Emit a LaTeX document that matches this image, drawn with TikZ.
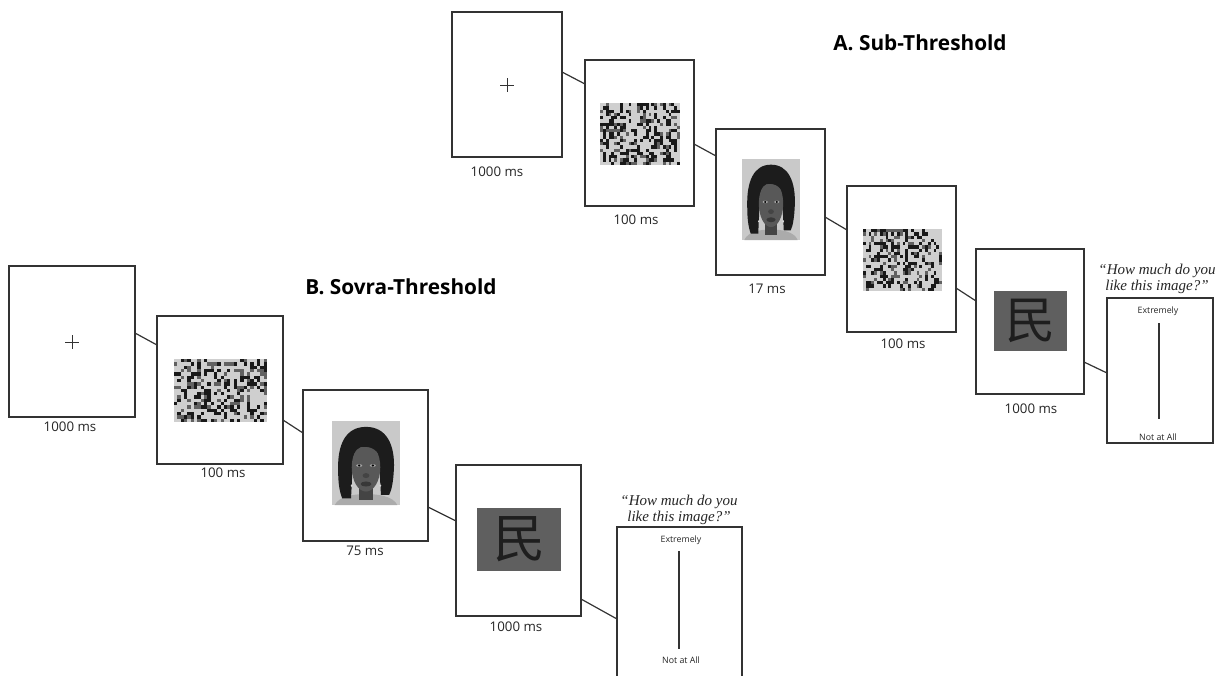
\documentclass[tikz,border=0pt]{standalone}
\usepackage{fontspec}
\newfontfamily\labfont{Open Sans}
\newfontfamily\qfont{Liberation Serif}
\newfontfamily\cjk{Noto Sans CJK SC}
\usetikzlibrary{calc}
\definecolor{framecol}{HTML}{333333}
\definecolor{noisebg}{HTML}{CFCFCF}
\definecolor{chargray}{HTML}{5F5F5F}
\definecolor{charink}{HTML}{1E1E1E}
\definecolor{photobg}{HTML}{C9C9C9}
\definecolor{hair}{HTML}{1C1C1C}
\definecolor{skin}{HTML}{585858}
\definecolor{skindark}{HTML}{444444}
\definecolor{lips}{HTML}{383838}
\definecolor{cloth}{HTML}{ABABAB}
\tikzset{
  frame/.style={draw=framecol, line width=1.3pt, fill=white, inner sep=0pt, outer sep=0pt},
  lab/.style={font=\labfont\fontsize{13.3}{15}\selectfont, text=black!85, inner sep=0pt},
  scalelab/.style={font=\labfont\fontsize{8.8}{10}\selectfont, text=black!85, inner sep=0pt},
  quest/.style={font=\qfont\itshape\fontsize{15}{16}\selectfont, text=black!85, align=center, inner sep=0pt},
  ttl/.style={font=\labfont\bfseries\fontsize{20.8}{24}\selectfont, text=black, inner sep=0pt},
  conn/.style={draw=framecol, line width=1.2pt},
  scaleline/.style={draw=framecol, line width=2pt},
  crossline/.style={draw=framecol, line width=0.8pt},
  charbox/.style={fill=chargray, draw=none, inner sep=0pt, outer sep=0pt},
}
\newcommand\noisepatch[5]{%
  \fill[noisebg] (#1,#2) rectangle ++(#3,#4);
  \pgfmathsetseed{#5}%
  \pgfmathsetmacro\noisecw{#3/28}%
  \pgfmathsetmacro\noisech{#4/19}%
  \foreach \i in {0,...,27}{\foreach \j in {0,...,18}{%
    \pgfmathsetmacro\noiser{rnd}%
    \ifdim\noiser pt<0.28pt
      \fill[black!90] (#1+\i*\noisecw,#2+\j*\noisech) rectangle ++(\noisecw,\noisech);
    \else\ifdim\noiser pt<0.42pt
      \fill[black!62] (#1+\i*\noisecw,#2+\j*\noisech) rectangle ++(\noisecw,\noisech);
    \fi\fi
  }}%
}
\newcommand\facepic[4]{%
  \begin{scope}[shift={(#1,#2)},xscale=#3,yscale=#4]
    \fill[photobg] (0,0) rectangle (100,100);
    \fill[cloth] (4,100) .. controls (10,90) and (30,87) .. (50,87) .. controls (70,87) and (90,90) .. (96,100) -- cycle;
    \fill[hair] (50,7) .. controls (80,7) and (93,28) .. (91,58) .. controls (90,72) and (88,82) .. (84,88) -- (72,88) -- (70,60) -- (30,60) -- (28,92) -- (15,92) .. controls (11,84) and (9,74) .. (9,58) .. controls (8,28) and (20,7) .. (50,7) -- cycle;
    \fill[skindark] (40,70) rectangle (60,94);
    \fill[skin] (50,55) ellipse [x radius=21, y radius=29];
    \fill[hair] (28,50) .. controls (27,24) and (44,15) .. (60,16) .. controls (73,18) and (77,32) .. (74,50) .. controls (70,35) and (58,29) .. (42,31) .. controls (33,34) and (30,42) .. (28,50) -- cycle;
    \fill[black!35] (40,53) ellipse [x radius=4.5, y radius=1.6];
    \fill[black!35] (60,53) ellipse [x radius=4.5, y radius=1.6];
    \fill[black] (40,53) ellipse [x radius=1.8, y radius=1.5];
    \fill[black] (60,53) ellipse [x radius=1.8, y radius=1.5];
    \fill[skindark] (50,65) ellipse [x radius=5, y radius=3];
    \fill[lips] (50,75) ellipse [x radius=8, y radius=3];
    \fill[white!85!black] (29,77) circle [radius=1.5];
    \fill[white!85!black] (71,77) circle [radius=1.5];
  \end{scope}%
}
\begin{document}
\begin{tikzpicture}[x=1pt,y=-1pt]
\fill[white] (0,0) rectangle (1217,675);
\useasboundingbox (0,0) rectangle (1217,675);
\clip (0,0) rectangle (1217,675);

% ---------- A. Sub-Threshold ----------
\node[ttl] (tA) at (920,43) {A. Sub-Threshold};

\node[frame, minimum width=110pt, minimum height=145pt] (A1) at (507,84.5) {};
\node[frame, minimum width=109pt, minimum height=146pt] (A2) at (639.5,133) {};
\node[frame, minimum width=109pt, minimum height=146pt] (A3) at (770.5,202) {};
\node[frame, minimum width=109pt, minimum height=146pt] (A4) at (901.5,259) {};
\node[frame, minimum width=108pt, minimum height=145pt] (A5) at (1030,321.5) {};
\node[frame, minimum width=106pt, minimum height=145pt] (A6) at (1160,370.5) {};

\draw[conn] ([yshift=12.5pt]A1.east) -- ([yshift=49pt]A2.west);
\draw[conn] ([yshift=-11pt]A2.east) -- ([yshift=46pt]A3.west);
\draw[conn] ([yshift=-15pt]A3.east) -- ([yshift=29pt]A4.west);
\draw[conn] ([yshift=-29pt]A4.east) -- ([yshift=20.5pt]A5.west);
\draw[conn] ([yshift=-40.5pt]A5.east) -- ([yshift=-2.5pt]A6.west);

\draw[crossline] (500,85) -- (514,85) (507,78) -- (507,92);
\noisepatch{600}{103}{80}{62}{11}
\facepic{742}{159}{0.58}{0.81}
\noisepatch{863}{229}{79}{62}{23}
\node[charbox, minimum width=73pt, minimum height=60pt] (A5c) at (1030.5,321) {};
\node[font=\cjk\fontsize{50}{50}\selectfont, text=charink, inner sep=0pt] (A5k) at (A5c) {民};

\node[lab] (A1l) at (497,172) {1000 ms};
\node[lab] (A2l) at (636,220) {100 ms};
\node[lab] (A3l) at (767,289) {17 ms};
\node[lab] (A4l) at (903,344) {100 ms};
\node[lab] (A5l) at (1031,409) {1000 ms};

\node[quest] (A6q) at (1157,279) {“How much do you\\like this image?”};
\node[scalelab] (A6t) at (1158,311) {Extremely};
\node[scalelab] (A6b) at (1158,437) {Not at All};
\draw[scaleline] (1159,323) -- (1159,419);

% ---------- B. Sovra-Threshold ----------
\node[ttl] (tB) at (401,287) {B. Sovra-Threshold};

\node[frame, minimum width=126pt, minimum height=151pt] (B1) at (72,341.5) {};
\node[frame, minimum width=126pt, minimum height=148pt] (B2) at (220,390) {};
\node[frame, minimum width=125pt, minimum height=151pt] (B3) at (365.5,465.5) {};
\node[frame, minimum width=125pt, minimum height=151pt] (B4) at (518.5,540.5) {};
\node[frame, minimum width=125pt, minimum height=153pt] (B5) at (679.5,603.5) {};

\draw[conn] ([yshift=8.5pt]B1.east) -- ([yshift=45pt]B2.west);
\draw[conn] ([yshift=-30pt]B2.east) -- ([yshift=32.5pt]B3.west);
\draw[conn] ([yshift=-41.5pt]B3.east) -- ([yshift=19.5pt]B4.west);
\draw[conn] ([yshift=-58.5pt]B4.east) -- ([yshift=-15.5pt]B5.west);

\draw[crossline] (65,342) -- (79,342) (72,335) -- (72,349);
\noisepatch{174}{359}{93}{63}{37}
\facepic{332}{421}{0.68}{0.84}
\node[charbox, minimum width=84pt, minimum height=63pt] (B4c) at (519,539.5) {};
\node[font=\cjk\fontsize{52}{52}\selectfont, text=charink, inner sep=0pt] (B4k) at (B4c) {民};

\node[lab] (B1l) at (70,427) {1000 ms};
\node[lab] (B2l) at (223,473) {100 ms};
\node[lab] (B3l) at (365,551) {75 ms};
\node[lab] (B4l) at (516,627) {1000 ms};

\node[quest] (B5q) at (679,510) {“How much do you\\like this image?”};
\node[scalelab] (B5t) at (681,540) {Extremely};
\node[scalelab] (B5b) at (681,660) {Not at All};
\draw[scaleline] (679,551) -- (679,649);
\end{tikzpicture}
\end{document}
